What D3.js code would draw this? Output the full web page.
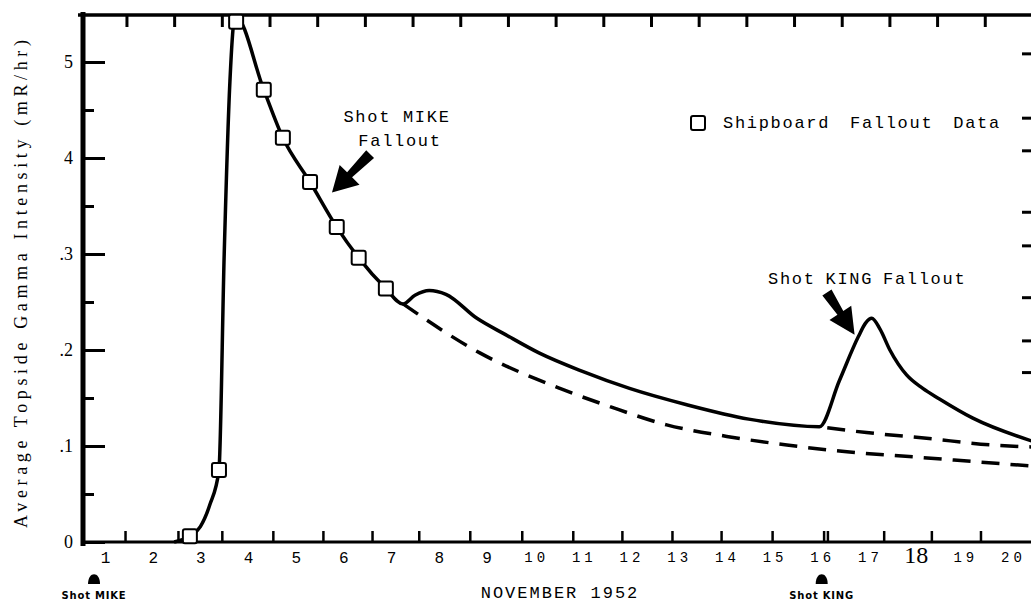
<!DOCTYPE html>
<html>
<head>
<meta charset="utf-8">
<script src="https://cdn.jsdelivr.net/npm/d3@7"></script>
<style>
  body { margin: 0; background: #fff; }
  svg { display: block; }
  .mono { font-family: "Liberation Mono", "DejaVu Sans Mono", monospace; }
  .serif { font-family: "Liberation Serif", "DejaVu Serif", serif; }
</style>
</head>
<body>
<svg id="chart" width="1031" height="604"></svg>
<script>
// x = day of November 1952, y = average topside gamma intensity (mR/hr)
const solidDays = [2.45, 2.78, 3.00, 3.20, 3.39, 3.50, 3.62, 3.73, 4.33, 4.73, 5.30, 5.86, 6.32, 6.89,
  7.25, 7.50, 7.80, 8.15, 8.80, 9.40, 10.10, 11.00, 12.00, 13.20, 14.50, 15.98,
  16.40, 16.80, 16.95, 17.08, 17.25, 17.46, 17.81, 18.15, 18.50, 19.20, 20.45];
const solidVals = [0.000, 0.006, 0.016, 0.039, 0.075, 0.300, 0.480, 0.548, 0.471, 0.421, 0.375, 0.328, 0.296, 0.264,
  0.248, 0.257, 0.262, 0.258, 0.233, 0.216, 0.197, 0.178, 0.160, 0.143, 0.128, 0.120,
  0.168, 0.214, 0.228, 0.233, 0.222, 0.200, 0.174, 0.160, 0.149, 0.129, 0.105];

// MIKE decay without the second bump
const mikeDashDays = [7.25, 8.86, 10.54, 11.59, 12.78, 14.04, 15.30, 16.56, 18.00, 20.45];
const mikeDashVals = [0.248, 0.197, 0.160, 0.141, 0.122, 0.110, 0.101, 0.094, 0.0885, 0.079];

// baseline before KING fallout
const kingDashDays = [15.98, 16.97, 18.23, 19.62, 20.45];
const kingDashVals = [0.120, 0.114, 0.108, 0.101, 0.099];

// shipboard fallout data
const shipDays = [2.78, 3.39, 3.75, 4.33, 4.73, 5.30, 5.86, 6.32, 6.89];
const shipVals = [0.006, 0.075, 0.542, 0.471, 0.421, 0.375, 0.328, 0.296, 0.264];

const dayLabels = [1, 2, 3, 4, 5, 6, 7, 8, 9, 10, 11, 12, 13, 14, 15, 16, 17, 18, 19, 20];
const bottomTicks = [1.42, 2.53, 3.45, 4.52, 5.57, 6.60, 7.58, 8.65, 9.74, 10.81, 11.84, 12.89,
  13.92, 14.99, 16.07, 16.15, 17.33, 18.33, 19.36];
const topTicks = [1.45, 2.45, 3.45, 4.45, 5.45, 6.45, 7.45, 8.45, 9.45, 10.45, 11.45, 12.45,
  13.45, 14.45, 15.45, 16.45, 17.45, 18.45, 19.45];
const yMajor = [0, 0.1, 0.2, 0.3, 0.4, 0.5];
const yMinor = [0.05, 0.15, 0.25, 0.35, 0.45];
const yLabels = ["0", ".1", ".2", ".3", "4", "5"];
const rightTicks = [0.509, 0.442, 0.408, 0.344, 0.309, 0.255, 0.210, 0.177];

const shotDays = [0.77, 16.03];
const shotNames = ["Shot MIKE", "Shot KING"];

const svg = d3.select("#chart");

const x = d3.scaleLinear().domain([1, 20]).range([105, 1011]);
const y = d3.scaleLinear().domain([0, 0.5]).range([542, 62]);

const leftX = 83, topY = 15, bottomY = 542, rightX = 1031;

// frame lines
svg.append("line").attr("x1", leftX).attr("x2", leftX).attr("y1", 12).attr("y2", 546)
  .attr("stroke", "#000").attr("stroke-width", 5);
svg.append("line").attr("x1", 78).attr("x2", rightX).attr("y1", topY).attr("y2", topY)
  .attr("stroke", "#000").attr("stroke-width", 3.5);
svg.append("line").attr("x1", leftX).attr("x2", rightX).attr("y1", bottomY).attr("y2", bottomY)
  .attr("stroke", "#000").attr("stroke-width", 3);

function cleanTicks(g, w) {
  g.select(".domain").remove();
  g.selectAll(".tick line").attr("stroke", "#000").attr("stroke-width", w);
}

// y ticks pointing inward
svg.append("g").attr("transform", `translate(${leftX},0)`)
  .call(d3.axisRight(y).tickValues(yMajor).tickSize(22).tickFormat(""))
  .call(g => cleanTicks(g, 3));
svg.append("g").attr("transform", `translate(${leftX},0)`)
  .call(d3.axisRight(y).tickValues(yMinor).tickSize(11).tickFormat(""))
  .call(g => cleanTicks(g, 3));
svg.append("g").attr("transform", `translate(${leftX},0)`)
  .call(d3.axisLeft(y).tickValues(yMajor).tickSize(0).tickPadding(10).tickFormat((d, i) => yLabels[i]))
  .call(g => g.select(".domain").remove())
  .call(g => g.selectAll("text").attr("class", "serif").attr("font-size", 18).attr("fill", "#000"));

// right edge ticks
svg.append("g").attr("transform", `translate(${rightX},0)`)
  .call(d3.axisLeft(y).tickValues(rightTicks).tickSize(9).tickFormat(""))
  .call(g => cleanTicks(g, 3));

// x ticks
svg.append("g").attr("transform", `translate(0,${bottomY})`)
  .call(d3.axisTop(x).tickValues(bottomTicks).tickSize(11).tickFormat(""))
  .call(g => cleanTicks(g, 2.5));
svg.append("g").attr("transform", `translate(0,${topY})`)
  .call(d3.axisBottom(x).tickValues(topTicks).tickSize(12).tickFormat(""))
  .call(g => cleanTicks(g, 3));

const xl = svg.append("g").attr("transform", `translate(0,${bottomY})`)
  .call(d3.axisBottom(x).tickValues(dayLabels).tickSize(0).tickPadding(10).tickFormat(d3.format("d")))
  .call(g => g.select(".domain").remove());
xl.selectAll("text")
  .attr("fill", "#000")
  .attr("class", d => d === 18 ? "serif" : "mono")
  .attr("font-size", d => d === 18 ? 24 : (d >= 10 ? 14 : 16))
  .attr("dy", d => d === 18 ? "0.45em" : "0.71em")
  .style("letter-spacing", d => (d >= 10 && d !== 18) ? "4px" : null)
  .attr("dx", d => (d >= 10 && d !== 18) ? 2 : 0);

// y title
svg.append("text")
  .attr("class", "serif")
  .attr("transform", "translate(27,284) rotate(-90)")
  .attr("text-anchor", "middle")
  .attr("font-size", 18)
  .attr("textLength", 488)
  .attr("lengthAdjust", "spacing")
  .text("Average Topside Gamma Intensity (mR/hr)");

svg.append("text").attr("class", "mono")
  .attr("x", 560).attr("y", 598).attr("text-anchor", "middle")
  .attr("font-size", 17).style("letter-spacing", "2px")
  .text("NOVEMBER 1952");

// shot markers under the axis
const shots = svg.append("g").selectAll("g").data(shotDays).join("g")
  .attr("transform", d => `translate(${x(d)},0)`);
shots.append("path")
  .attr("d", "M-6,584 C-6,571 6,571 6,584 Z")
  .attr("fill", "#000");
shots.append("text")
  .attr("y", 599).attr("text-anchor", "middle")
  .attr("font-family", "DejaVu Sans, sans-serif").attr("font-weight", "bold")
  .attr("font-size", 10).style("letter-spacing", "0.8px")
  .text((d, i) => shotNames[i]);

// curves
const line = d3.line().x(d => x(d[0])).y(d => y(d[1])).curve(d3.curveMonotoneX);
const plot = svg.append("g");

plot.append("path")
  .datum(mikeDashDays.map((d, i) => [d, mikeDashVals[i]]))
  .attr("d", line).attr("fill", "none").attr("stroke", "#000")
  .attr("stroke-width", 3.5).attr("stroke-dasharray", "18,11");
plot.append("path")
  .datum(kingDashDays.map((d, i) => [d, kingDashVals[i]]))
  .attr("d", line).attr("fill", "none").attr("stroke", "#000")
  .attr("stroke-width", 3.5).attr("stroke-dasharray", "18,11").attr("stroke-dashoffset", -8);
plot.append("path")
  .datum(solidDays.map((d, i) => [d, solidVals[i]]))
  .attr("d", line).attr("fill", "none").attr("stroke", "#000")
  .attr("stroke-width", 3.5).attr("stroke-linejoin", "round");

plot.selectAll("rect.ship")
  .data(shipDays.map((d, i) => [d, shipVals[i]]))
  .join("rect").attr("class", "ship")
  .attr("x", d => x(d[0]) - 7).attr("y", d => y(d[1]) - 7)
  .attr("width", 14).attr("height", 14).attr("rx", 2)
  .attr("fill", "#fff").attr("stroke", "#000").attr("stroke-width", 2);

// legend
svg.append("rect").attr("x", 691).attr("y", 116).attr("width", 14).attr("height", 14).attr("rx", 2)
  .attr("fill", "#fff").attr("stroke", "#000").attr("stroke-width", 2);
svg.append("text").attr("class", "mono").attr("x", 723).attr("y", 128)
  .attr("font-size", 17).style("letter-spacing", "1.7px").style("word-spacing", "8px")
  .text("Shipboard Fallout Data");

// annotations with arrows
function arrow(tail, tip, wTail, wBase, headLen, headHalf) {
  const [x0, y0] = tail, [x1, y1] = tip;
  const len = Math.hypot(x1 - x0, y1 - y0);
  const ux = (x1 - x0) / len, uy = (y1 - y0) / len;
  const nx = -uy, ny = ux;
  const bx = x1 - ux * headLen, by = y1 - uy * headLen;
  const pts = [
    [x0 + nx * wTail, y0 + ny * wTail],
    [bx + nx * wBase, by + ny * wBase],
    [bx + nx * headHalf, by + ny * headHalf],
    [x1, y1],
    [bx - nx * headHalf, by - ny * headHalf],
    [bx - nx * wBase, by - ny * wBase],
    [x0 - nx * wTail, y0 - ny * wTail]
  ];
  svg.append("path").attr("d", "M" + pts.map(p => p.join(",")).join("L") + "Z").attr("fill", "#000");
}
arrow([x(6.56), y(0.404)], [x(5.76), y(0.364)], 5.5, 3.5, 25, 14);
arrow([x(16.14), y(0.260)], [x(16.72), y(0.216)], 5.5, 3.5, 26, 13);

svg.append("text").attr("class", "mono").attr("x", 397).attr("y", 122).attr("text-anchor", "middle")
  .attr("font-size", 17).style("letter-spacing", "1.7px").text("Shot MIKE");
svg.append("text").attr("class", "mono").attr("x", 400).attr("y", 146).attr("text-anchor", "middle")
  .attr("font-size", 17).style("letter-spacing", "1.7px").text("Fallout");
svg.append("text").attr("class", "mono").attr("x", 768).attr("y", 284)
  .attr("font-size", 17).style("letter-spacing", "1.7px").style("word-spacing", "-2px")
  .text("Shot KING Fallout");
</script>
</body>
</html>
